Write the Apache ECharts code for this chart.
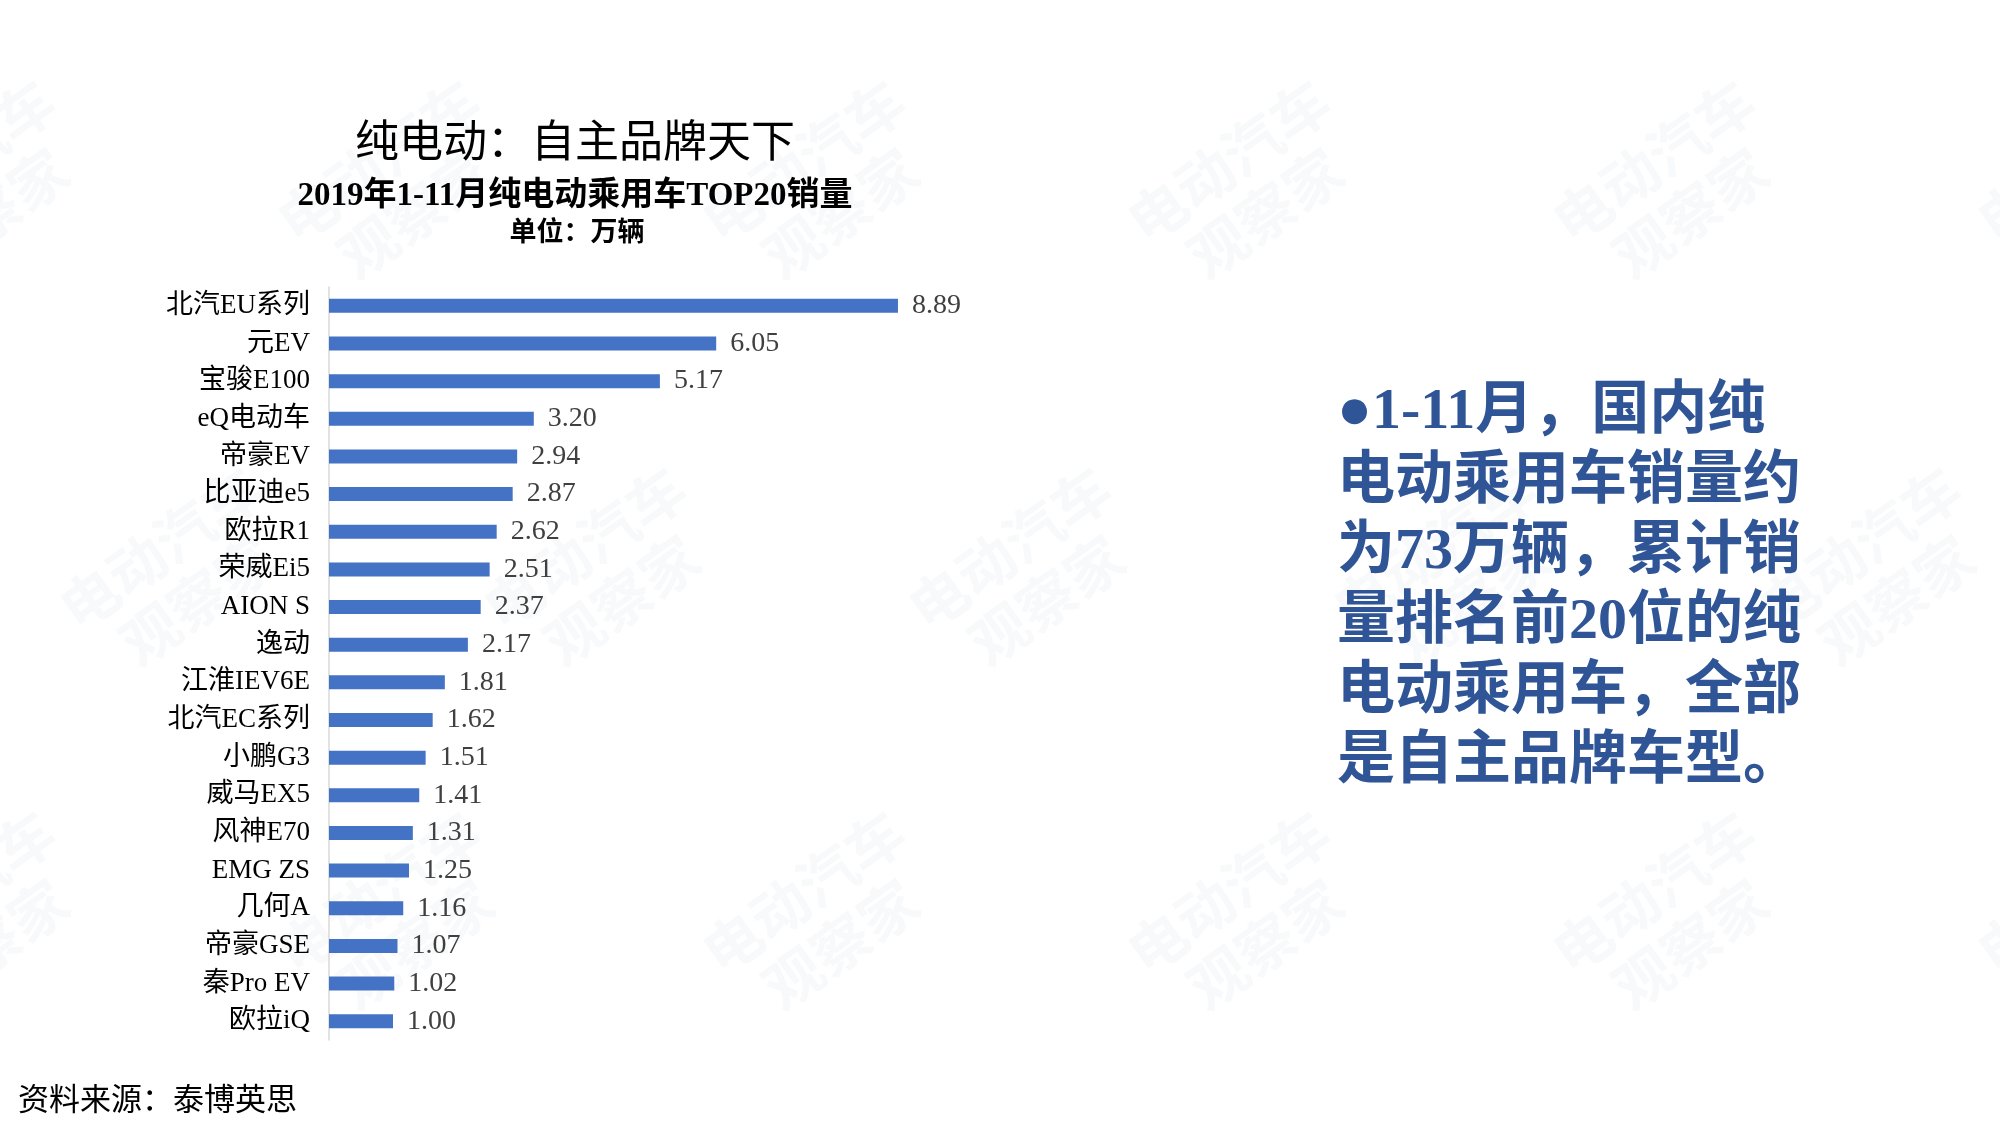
<!DOCTYPE html>
<html>
<head>
<meta charset="utf-8">
<script src="https://cdn.jsdelivr.net/npm/echarts@6/dist/echarts.min.js"></script>
<style>
html,body{margin:0;padding:0;background:#fff;}
#chart{width:2000px;height:1126px;}
</style>
</head>
<body>
<div id="chart"></div>
<script>
// ---- data ----
const categories = ['北汽EU系列','元EV','宝骏E100','eQ电动车','帝豪EV','比亚迪e5','欧拉R1','荣威Ei5','AION S','逸动','江淮IEV6E','北汽EC系列','小鹏G3','威马EX5','风神E70','EMG ZS','几何A','帝豪GSE','秦Pro EV','欧拉iQ'];
const sales = [8.89,6.05,5.17,3.20,2.94,2.87,2.62,2.51,2.37,2.17,1.81,1.62,1.51,1.41,1.31,1.25,1.16,1.07,1.02,1.00];
const titleText = '纯电动：自主品牌天下';
const subtitleText = '2019年1-11月纯电动乘用车TOP20销量';
const unitText = '单位：万辆';
const noteLines = ['●1-11月，国内纯','电动乘用车销量约','为73万辆，累计销','量排名前20位的纯','电动乘用车，全部','是自主品牌车型。'];
const sourceText = '资料来源：泰博英思';
const watermarkLines = ['电动汽车','观察家'];

// ---- styles / layout ----
const FONT = "'Liberation Serif', 'Noto Sans CJK SC', serif";
const chart = echarts.init(document.getElementById('chart'), null, {renderer:'canvas'});

const wmCenters = [
  [-28,187],[397,187],[822,187],[1247,187],[1672,187],[2097,187],
  [179,574],[603,574],[1028,574],[1453,574],[1878,574],
  [-28,918],[397,918],[822,918],[1247,918],[1672,918],[2097,918]
];
const watermarks = wmCenters.map(p => ({
  type:'text', x:p[0], y:p[1], rotation:0.62, z:-10, silent:true,
  style:{text:watermarkLines.join('\n'), font:"bold 58px 'Noto Sans CJK SC'", lineHeight:64,
         fill:'rgba(20,60,100,0.03)', align:'center', verticalAlign:'middle'}
}));

chart.setOption({
  backgroundColor:'#ffffff',
  animation:false,
  grid:{left:329, top:287, width:640, height:753, containLabel:false},
  xAxis:{type:'value', min:0, max:10, show:false},
  yAxis:{
    type:'category', data:categories, inverse:true,
    axisLine:{show:true, lineStyle:{color:'#d9d9d9', width:1.5}},
    axisTick:{show:false},
    axisLabel:{margin:19, color:'#000000', fontSize:27, fontFamily:FONT}
  },
  series:[{
    type:'bar', data:sales, barWidth:14,
    itemStyle:{color:'#4472C4'},
    label:{show:true, position:'right', distance:14, color:'#404040', fontSize:28, fontFamily:FONT,
           formatter:p => p.value.toFixed(2)}
  }],
  graphic:[
    ...watermarks,
    {type:'text', x:575, y:145, style:{text:titleText, font:"44px "+FONT, fill:'#000', align:'center', verticalAlign:'middle'}},
    {type:'text', x:575, y:196, style:{text:subtitleText, font:"bold 33px "+FONT, fill:'#000', align:'center', verticalAlign:'middle'}},
    {type:'text', x:577, y:234, style:{text:unitText, font:"bold 27px "+FONT, fill:'#000', align:'center', verticalAlign:'middle'}},
    {type:'text', x:1337, y:378, style:{text:noteLines.join('\n'), font:"bold 58px "+FONT, lineHeight:70, fill:'#2F5597', align:'left', verticalAlign:'top'}},
    {type:'text', x:18, y:1102, style:{text:sourceText, font:"31px "+FONT, fill:'#000', align:'left', verticalAlign:'middle'}}
  ]
});
</script>
</body>
</html>
